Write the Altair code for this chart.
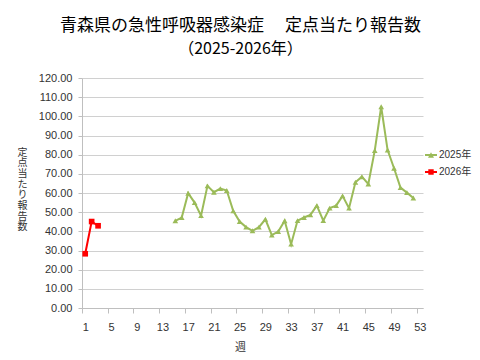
import altair as alt
import pandas as pd

# ---- data ----
series_names = ["2025年", "2026年"]
series_colors = ["#9BBB59", "#FF0000"]
marker_shapes = ["triangle-up", "square"]
legend_shapes = [
    "M-1,-0.15H1V0.15H-1Z M-0.5,0.45L0,-0.45L0.5,0.45Z",
    "M-1,-0.15H1V0.15H-1Z M-0.45,-0.45H0.45V0.45H-0.45Z",
]

weeks_2025 = list(range(15, 53))
values_2025 = [45.5, 47.2, 59.9, 55.0, 48.2, 63.7, 60.4, 62.3, 61.3, 50.7,
               45.1, 42.2, 40.3, 42.2, 46.3, 38.0, 39.9, 45.5, 33.3, 45.6,
               47.2, 48.6, 53.4, 45.6, 52.1, 53.4, 58.5, 52.1, 65.6, 68.5,
               64.7, 82.1, 105.0, 82.4, 72.9, 62.8, 60.2, 57.4]
weeks_2026 = [1, 2, 3]
values_2026 = [28.3, 45.1, 42.9]

x_label_weeks = list(range(1, 54, 4))
x_tick_positions = [w - 0.5 for w in range(1, 54, 4)]
y_ticks = list(range(0, 121, 10))

rows = []
for w, v in zip(weeks_2025, values_2025):
    rows.append({"week": w, "value": v, "series": series_names[0]})
for w, v in zip(weeks_2026, values_2026):
    rows.append({"week": w, "value": v, "series": series_names[1]})
df = pd.DataFrame(rows)

LAT = "Liberation Sans, Noto Sans CJK JP"
CJK = "Noto Sans CJK JP"

x_enc = alt.X(
    "week:Q",
    scale=alt.Scale(domain=[0.5, 53.5], nice=False, zero=False),
    axis=alt.Axis(
        values=sorted(x_label_weeks + x_tick_positions),
        labelExpr="datum.value % 1 == 0 ? format(datum.value, 'd') : ''",
        tickOpacity={"condition": {"test": "datum.value % 1 != 0", "value": 1}, "value": 0},
        grid=False,
        domainColor="#bfbfbf",
        tickColor="#bfbfbf",
        tickSize=5,
        labelPadding=8,
        labelFont=LAT,
        labelFontSize=11,
        labelColor="#333333",
        labelOverlap=False,
        labelFlush=False,
        title="週",
        titleFont=CJK,
        titleFontSize=11,
        titleFontWeight="normal",
        titleColor="#333333",
        titleX=158,
        titleY=39,
        titleAlign="center",
        titleBaseline="middle",
    ),
)

y_enc = alt.Y(
    "value:Q",
    scale=alt.Scale(domain=[0, 120], nice=False),
    axis=alt.Axis(
        values=y_ticks,
        format=".2f",
        grid=True,
        gridColor="#d0d0d0",
        domainColor="#bfbfbf",
        tickColor="#bfbfbf",
        tickSize=4,
        labelPadding=6,
        labelFont=LAT,
        labelFontSize=11,
        labelColor="#333333",
        title=list("定点当たり報告数"),
        titleAngle=0,
        titleFont=CJK,
        titleFontSize=10,
        titleFontWeight="normal",
        titleColor="#333333",
        titleLineHeight=10.7,
        titleX=-60,
        titleY=74,
        titleAlign="center",
        titleBaseline="middle",
    ),
)

color_scale = alt.Scale(domain=series_names, range=series_colors)

base = alt.Chart(df)

lines = base.mark_line(strokeWidth=2).encode(
    x=x_enc, y=y_enc,
    color=alt.Color("series:N", scale=color_scale, legend=None),
)

points = base.mark_point(filled=True, opacity=1, size=32).encode(
    x=x_enc, y=y_enc,
    color=alt.Color("series:N", scale=color_scale, legend=None),
    shape=alt.Shape("series:N", scale=alt.Scale(domain=series_names, range=marker_shapes), legend=None),
)

leg_props = dict(
    orient="none", legendX=343, legendY=71, title=None, padding=0,
    symbolSize=144, symbolOpacity=1, symbolStrokeWidth=0,
    labelFont=LAT, labelFontSize=10, labelColor="#333333",
    labelOffset=2, rowPadding=6,
)

legend_layer = base.mark_point(filled=True, opacity=0, size=144).encode(
    x=x_enc, y=y_enc,
    color=alt.Color("series:N", scale=color_scale, legend=alt.Legend(**leg_props)),
    shape=alt.Shape("series:N", scale=alt.Scale(domain=series_names, range=legend_shapes),
                    legend=alt.Legend(**leg_props)),
)

chart = alt.layer(lines, points, legend_layer).resolve_scale(
    color="independent", shape="independent"
).properties(
    width=341,
    height=230,
    padding={"left": 74, "top": 70, "right": 49, "bottom": 44},
    autosize=alt.AutoSizeParams(type="none"),
    title=alt.TitleParams(
        text="青森県の急性呼吸器感染症　 定点当たり報告数",
        subtitle="（2025-2026年）",
        font=CJK, fontSize=17, fontWeight="normal", color="#000000",
        subtitleFont=CJK, subtitleFontSize=16, subtitleColor="#000000",
        subtitlePadding=6, anchor="middle", offset=14, dx=-12,
    ),
).configure_view(stroke=None)

chart.save("out.html", embed_options={"renderer": "svg", "actions": False})
